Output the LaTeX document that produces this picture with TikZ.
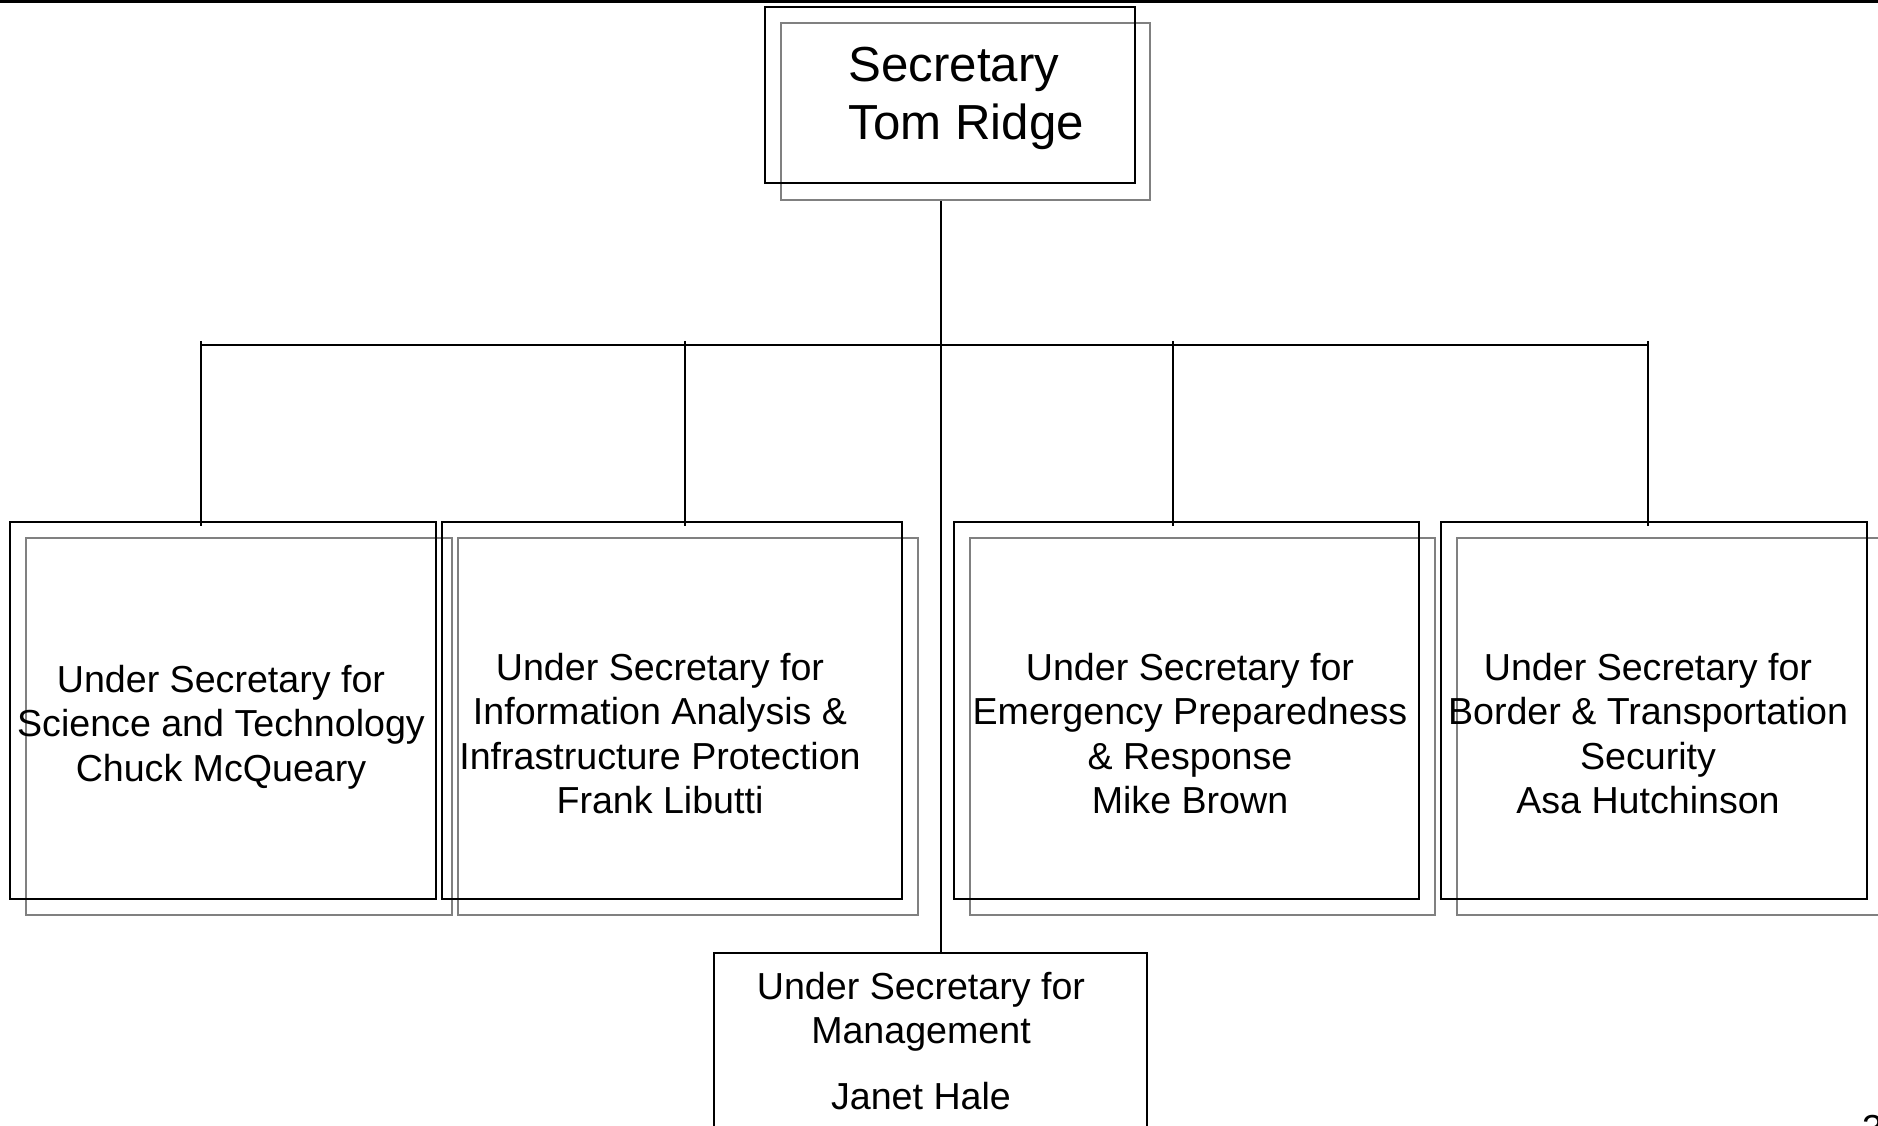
\documentclass[tikz,border=0pt]{standalone}
\usepackage{fontspec}
\setmainfont{Liberation Sans}
\usetikzlibrary{calc}

\tikzset{
	box/.style={draw=black,line width=0.6pt,inner sep=0pt},
	shadebox/.style={draw=black!50,line width=0.6pt},
	link/.style={draw=black,line width=0.6pt},
	ustext/.style={inner sep=0pt,align=center,font=\fontsize{10.7}{12.6}\selectfont},
}

\begin{document}
\begin{tikzpicture}
	\useasboundingbox (0,0) rectangle (18.78,-11.26);
	\draw[line width=0.77pt] (0,-0.013)--(18.78,-0.013);	%top rule
	
	%secretary
	\draw[shadebox] (7.81,-0.23) rectangle (11.50,-2.00);
	\node[box,minimum width=3.70cm,minimum height=1.76cm] (sec) at (9.50,-0.95) {};
	\node[anchor=north west,inner sep=0pt,align=left,font=\fontsize{14}{16.4}\selectfont] (sec-t) at (8.48,-0.468) {Secretary\\Tom Ridge};
	
	%under secretaries
	\foreach \n/\cx/\w in {sci/2.23/4.26, info/6.72/4.60, emer/11.865/4.65, bord/16.54/4.26}{
		\draw[shadebox] ({\cx-\w/2+0.16},-5.38) rectangle ({\cx+\w/2+0.16},-9.15);
		\node[box,minimum width=\w cm,minimum height=3.77cm] (\n) at (\cx,-7.105) {};
	}
	\node[ustext,anchor=north] (sci-t) at (2.21,-6.646) {Under Secretary for\\Science and Technology\\Chuck McQueary};
	\node[ustext,anchor=north] (info-t) at (6.60,-6.526) {Under Secretary for\\Information Analysis \&\\Infrastructure Protection\\Frank Libutti};
	\node[ustext,anchor=north] (emer-t) at (11.90,-6.526) {Under Secretary for\\Emergency Preparedness\\\& Response\\Mike Brown};
	\node[ustext,anchor=north] (bord-t) at (16.48,-6.526) {Under Secretary for\\Border \& Transportation\\Security\\Asa Hutchinson};
	
	%management
	\node[box,minimum width=4.33cm,minimum height=2.27cm] (mgmt) at (9.305,-10.665) {};
	\node[ustext,anchor=north] (mgmt-t) at (9.21,-9.716) {Under Secretary for\\Management\\[0.21cm]Janet Hale};
	
	%connectors
	\coordinate (hub) at (9.41,-3.45);
	\draw[link] ($(sec.south -| hub)+(0,-0.17)$)--(hub |- mgmt.north);
	\foreach \n/\x in {sci/2.01, info/6.85, emer/11.73, bord/16.48}{
		\coordinate (\n-tick) at (\x,-3.41);
		\draw[link] (\n-tick)--($(\n-tick |- \n.north)+(0,-0.05)$);
	}
	\draw[link] (sci-tick |- hub)--(bord-tick |- hub);
	
	\node[anchor=north west,inner sep=0pt,font=\fontsize{10.7}{12.6}\selectfont] (page) at (18.615,-11.15) {3};
\end{tikzpicture}
\end{document}
